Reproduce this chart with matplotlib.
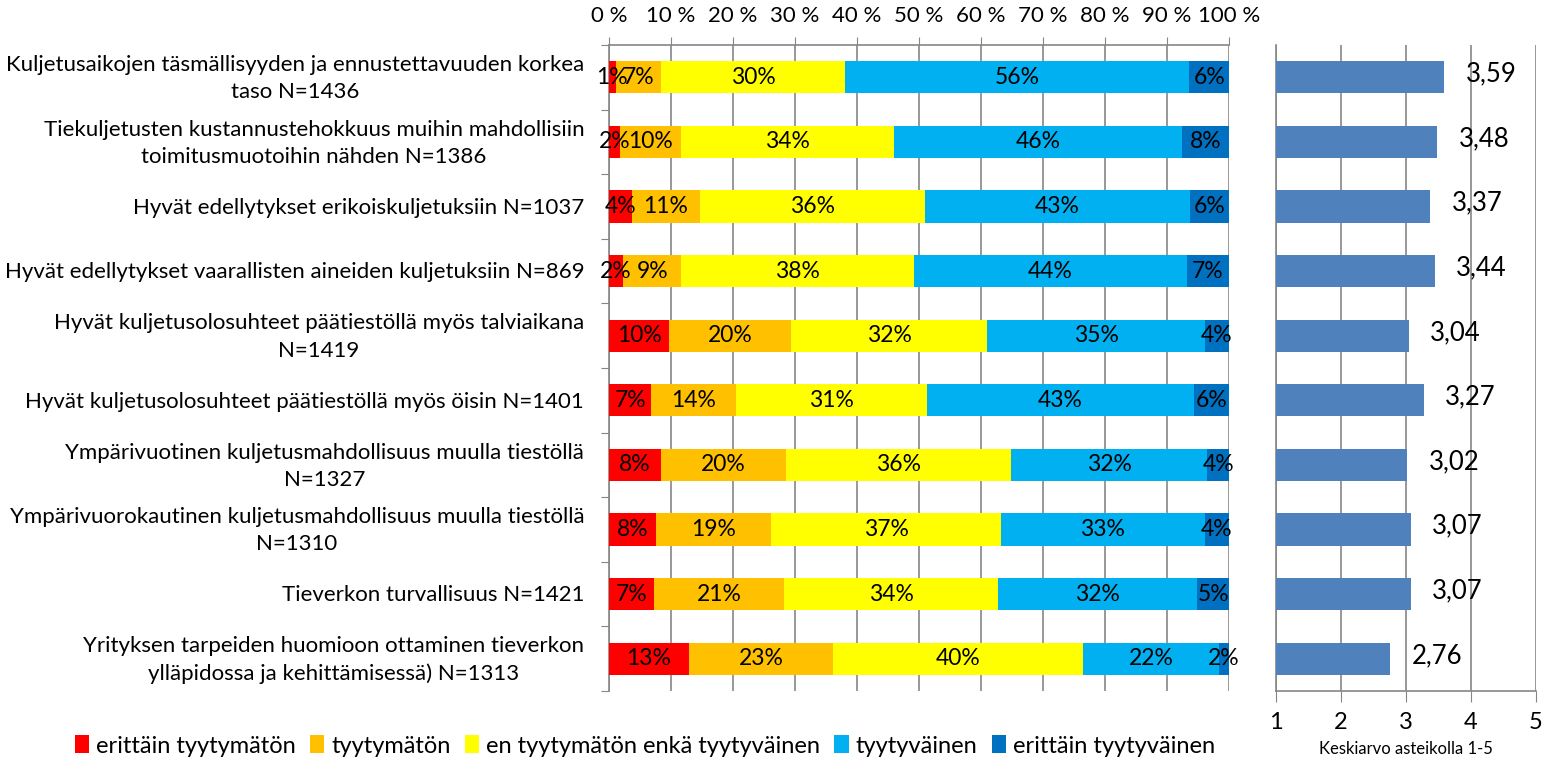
import matplotlib
matplotlib.use("Agg")
import matplotlib.pyplot as plt
import numpy as np

plt.rcParams['font.family'] = ['Lato', 'DejaVu Sans']

categories = [
    "Kuljetusaikojen täsmällisyyden ja ennustettavuuden korkea\ntaso N=1436",
    "Tiekuljetusten kustannustehokkuus muihin mahdollisiin\ntoimitusmuotoihin nähden N=1386",
    "Hyvät edellytykset erikoiskuljetuksiin N=1037",
    "Hyvät edellytykset vaarallisten aineiden kuljetuksiin N=869",
    "Hyvät kuljetusolosuhteet päätiestöllä myös talviaikana\nN=1419",
    "Hyvät kuljetusolosuhteet päätiestöllä myös öisin N=1401",
    "Ympärivuotinen kuljetusmahdollisuus muulla tiestöllä\nN=1327",
    "Ympärivuorokautinen kuljetusmahdollisuus muulla tiestöllä\nN=1310",
    "Tieverkon turvallisuus N=1421",
    "Yrityksen tarpeiden huomioon ottaminen tieverkon\nylläpidossa ja kehittämisessä) N=1313",
]

series_names = ["erittäin tyytymätön", "tyytymätön", "en tyytymätön enkä tyytyväinen",
                "tyytyväinen", "erittäin tyytyväinen"]
colors = ["#FF0000", "#FFC000", "#FFFF00", "#00B0F0", "#0070C0"]

erittain_tyytymaton = [1.1, 1.8, 3.7, 2.3, 9.7, 6.8, 8.4, 7.6, 7.3, 12.9]
tyytymaton = [7.3, 9.8, 11.0, 9.3, 19.7, 13.7, 20.1, 18.6, 21.0, 23.2]
en_kumpikaan = [29.7, 34.4, 36.3, 37.6, 31.6, 30.8, 36.3, 37.0, 34.4, 40.4]
tyytyvainen = [55.5, 46.4, 42.7, 44.0, 35.1, 43.1, 31.7, 32.9, 32.2, 21.9]
erittain_tyytyvainen = [6.4, 7.6, 6.3, 6.8, 3.9, 5.6, 3.5, 3.9, 5.1, 1.6]

keskiarvo = [3.59, 3.48, 3.37, 3.44, 3.04, 3.27, 3.02, 3.07, 3.07, 2.76]

xticks_left = list(range(0, 101, 10))
xticks_right = [1, 2, 3, 4, 5]

W, H = 1546, 764
fig = plt.figure(figsize=(W / 100, H / 100), dpi=100)

ax = fig.add_axes([609 / W, 1 - 691 / H, 620 / W, 646 / H])
ax2 = fig.add_axes([1276 / W, 1 - 691 / H, 260 / W, 646 / H])

n = len(categories)
y = np.arange(n)
data = [erittain_tyytymaton, tyytymaton, en_kumpikaan, tyytyvainen, erittain_tyytyvainen]
left = np.zeros(n)
for vals, name, col in zip(data, series_names, colors):
    vals = np.array(vals)
    ax.barh(y, vals, left=left, height=0.5, color=col, label=name, zorder=3)
    for yi, l, v in zip(y, left, vals):
        ax.text(l + v / 2, yi, f"{round(v):.0f}%", ha='center', va='center',
                fontsize=16.5, color='black', zorder=4)
    left += vals

ax.set_xlim(0, 100)
ax.set_ylim(n - 0.5, -0.5)
ax.xaxis.tick_top()
ax.set_xticks(xticks_left)
ax.set_xticklabels([f"{t} %" for t in xticks_left], fontsize=16)
ax.tick_params(axis='x', length=6, color='#868686', pad=8)
ax.grid(axis='x', color='#868686', linewidth=1.2, zorder=0)
ax.set_yticks(np.arange(-0.5, n, 1.0), minor=False)
ax.set_yticklabels([])
ax.tick_params(axis='y', length=6, color='#868686')
for i, c in enumerate(categories):
    ax.text(-0.04, i + 0.02, c, transform=ax.get_yaxis_transform(), ha='right', va='center',
            multialignment='center', fontsize=16, linespacing=1.45)
for s in ['right', 'bottom']:
    ax.spines[s].set_visible(False)
ax.spines['left'].set_color('#868686')
ax.spines['top'].set_color('#868686')
ax.spines['left'].set_linewidth(1.2)
ax.spines['top'].set_linewidth(1.2)

# right panel
ax2.barh(y, np.array(keskiarvo) - 1, left=1, height=0.5, color='#4F81BD', zorder=3)
for yi, v in zip(y, keskiarvo):
    ax2.text(v + 0.33, yi - 0.05, f"{v:.2f}".replace('.', ','), ha='left', va='center',
             fontsize=18.5)
ax2.set_xlim(1, 5)
ax2.set_ylim(n - 0.5, -0.5)
ax2.set_xticks(xticks_right)
ax2.set_xticklabels([str(t) for t in xticks_right], fontsize=17)
ax2.tick_params(axis='x', length=8, color='#868686', pad=7)
ax2.set_yticks([])
ax2.grid(axis='x', color='#868686', linewidth=1.2, zorder=0)
ax2.set_xlabel("Keskiarvo asteikolla 1-5", fontsize=12, labelpad=6)
for s in ['right', 'top']:
    ax2.spines[s].set_visible(False)
ax2.spines['left'].set_color('#868686')
ax2.spines['bottom'].set_color('#868686')
ax2.spines['left'].set_linewidth(1.2)
ax2.spines['bottom'].set_linewidth(1.2)

handles, labels = ax.get_legend_handles_labels()
fig.legend(handles, labels, loc='center', bbox_to_anchor=(645 / W, 1 - 746 / H), ncol=5,
           frameon=False, fontsize=17, handlelength=0.6, handleheight=0.8,
           handletextpad=0.3, columnspacing=0.6)

fig.savefig("out.png", dpi=100)
